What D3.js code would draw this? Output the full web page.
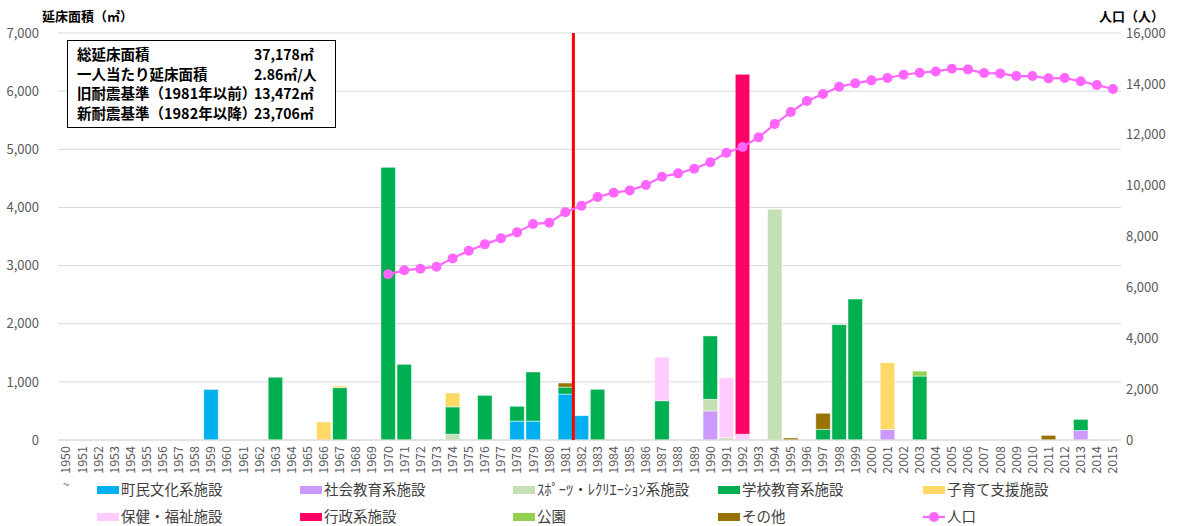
<!DOCTYPE html>
<html>
<head>
<meta charset="utf-8">
<script src="https://cdn.jsdelivr.net/npm/d3@7"></script>
<style>
body { margin: 0; background: #fff; }
svg { font-family: "Noto Sans CJK JP", "Noto Sans", sans-serif; }
</style>
</head>
<body>
<svg id="chart" width="1178" height="526"></svg>
<script>
// years on the x axis
var years = d3.range(1950, 2016);

// series names and colours (stack order = Excel series order)
var seriesNames = ["町民文化系施設", "社会教育系施設", "ｽﾎﾟｰﾂ・ﾚｸﾘｴｰｼｮﾝ系施設", "学校教育系施設",
  "子育て支援施設", "保健・福祉施設", "行政系施設", "公園", "その他"];
var seriesColors = ["#00B0F0", "#CC99FF", "#C5E0B4", "#00B050", "#FFD966", "#FFCCFF", "#FF0066", "#92D050", "#997300"];

// floor area per year, [year, m2]
var townCulture = [[1959, 870], [1978, 325], [1979, 325], [1981, 790], [1982, 418]];
var socialEdu = [[1990, 500], [2001, 180], [2013, 165]];
var sports = [[1974, 100], [1990, 200], [1991, 40], [1994, 3970]];
var schoolEdu = [[1963, 1080], [1967, 900], [1970, 4690], [1971, 1302], [1974, 470], [1976, 768],
  [1978, 255], [1979, 845], [1981, 120], [1983, 872], [1987, 675], [1990, 1090], [1997, 185],
  [1998, 1983], [1999, 2425], [2003, 1100], [2013, 190]];
var childcare = [[1966, 310], [1967, 30], [1974, 238], [2001, 1150]];
var welfare = [[1987, 750], [1991, 1030], [1992, 100]];
var admin = [[1992, 6190]];
var parks = [[2003, 85]];
var others = [[1981, 70], [1995, 35], [1997, 275], [2011, 80]];

// population
var popYears = d3.range(1970, 2016);
var popValues = [6513, 6670, 6735, 6814, 7140, 7442, 7691, 7927, 8163, 8490,
  8542, 8950, 9210, 9552, 9722, 9813, 10024, 10351, 10482, 10665,
  10915, 11294, 11517, 11897, 12421, 12893, 13325, 13600, 13888, 14020,
  14138, 14230, 14360, 14438, 14490, 14595, 14570, 14425, 14412, 14308,
  14308, 14217, 14230, 14100, 13955, 13797];

var areaTicks = [0, 1000, 2000, 3000, 4000, 5000, 6000, 7000];
var popTicks = [0, 2000, 4000, 6000, 8000, 10000, 12000, 14000, 16000];

var infoLines = [
  ["総延床面積", "37,178㎡"],
  ["一人当たり延床面積", "2.86㎡/人"],
  ["旧耐震基準（1981年以前）", "13,472㎡"],
  ["新耐震基準（1982年以降）", "23,706㎡"]
];

var allSeries = [townCulture, socialEdu, sports, schoolEdu, childcare, welfare, admin, parks, others];

// build table rows for d3.stack
var table = years.map(function(y) {
  var row = { year: y };
  allSeries.forEach(function(s, i) {
    var hit = s.find(function(p) { return p[0] === y; });
    row[i] = hit ? hit[1] : 0;
  });
  return row;
});

var svg = d3.select("#chart");
var plotLeft = 58, plotRight = 1121, plotTop = 33, plotBottom = 440;

var x = d3.scaleBand()
  .domain(years)
  .range([plotLeft, plotRight])
  .paddingInner(0.1)
  .paddingOuter(0.05);

var yArea = d3.scaleLinear().domain([0, 7000]).range([plotBottom, plotTop]);
var yPop = d3.scaleLinear().domain([0, 16000]).range([plotBottom, plotTop]);

// gridlines
svg.append("g")
  .selectAll("line")
  .data(areaTicks)
  .enter()
  .append("line")
  .attr("x1", plotLeft)
  .attr("x2", plotRight)
  .attr("y1", function(d) { return yArea(d); })
  .attr("y2", function(d) { return yArea(d); })
  .attr("stroke", "#D9D9D9")
  .attr("stroke-width", 1);

// left axis
var leftAxis = svg.append("g")
  .attr("transform", "translate(" + (plotLeft - 16) + ",0)")
  .call(d3.axisLeft(yArea).tickValues(areaTicks).tickFormat(d3.format(",")).tickSize(0));
leftAxis.select(".domain").remove();
leftAxis.selectAll("text").attr("fill", "#595959").style("font-size", "13px")
  .style("font-family", "'Noto Sans CJK JP'");

// right axis
var rightAxis = svg.append("g")
  .attr("transform", "translate(" + (plotRight + 2) + ",0)")
  .call(d3.axisRight(yPop).tickValues(popTicks).tickFormat(d3.format(",")).tickSize(0));
rightAxis.select(".domain").remove();
rightAxis.selectAll("text").attr("fill", "#595959").style("font-size", "13px")
  .style("font-family", "'Noto Sans CJK JP'");

// bottom axis with rotated years
var bottomAxis = svg.append("g")
  .attr("transform", "translate(0," + plotBottom + ")")
  .call(d3.axisBottom(x).tickSize(0));
bottomAxis.select(".domain").remove();
bottomAxis.selectAll("text")
  .attr("fill", "#595959")
  .style("font-size", "12.5px")
  .style("font-family", "'Noto Sans CJK JP'")
  .style("text-anchor", "end")
  .attr("transform", "rotate(-90)")
  .attr("x", -6)
  .attr("y", 0)
  .attr("dy", "0.35em");

svg.append("text")
  .attr("x", x(1950) + x.bandwidth() / 2)
  .attr("y", 489)
  .attr("text-anchor", "middle")
  .attr("fill", "#595959")
  .style("font-size", "12px")
  .text("~");

// stacked bars
var stack = d3.stack().keys(d3.range(seriesNames.length));
var layers = stack(table);

svg.append("g")
  .selectAll("g")
  .data(layers)
  .enter()
  .append("g")
  .attr("fill", function(d, i) { return seriesColors[i]; })
  .selectAll("rect")
  .data(function(d) { return d.filter(function(p) { return p[1] - p[0] > 0; }); })
  .enter()
  .append("rect")
  .attr("x", function(d) { return x(d.data.year); })
  .attr("width", x.bandwidth())
  .attr("y", function(d) { return yArea(d[1]); })
  .attr("height", function(d) { return yArea(d[0]) - yArea(d[1]); })
  .attr("stroke", "#ffffff")
  .attr("stroke-opacity", 0.6)
  .attr("stroke-width", 0.8);

// baseline
svg.append("line")
  .attr("x1", plotLeft).attr("x2", plotRight)
  .attr("y1", yArea(0)).attr("y2", yArea(0))
  .attr("stroke", "#D9D9D9");

// red divider between 1981 and 1982
var divX = x(1982) - x.step() * x.paddingInner() / 2;
svg.append("line")
  .attr("x1", divX).attr("x2", divX)
  .attr("y1", plotTop).attr("y2", plotBottom)
  .attr("stroke", "#FF0000")
  .attr("stroke-width", 3);

// population line
var popData = popYears.map(function(y, i) { return { year: y, value: popValues[i] }; });
var line = d3.line()
  .x(function(d) { return x(d.year) + x.bandwidth() / 2; })
  .y(function(d) { return yPop(d.value); });

svg.append("path")
  .datum(popData)
  .attr("d", line)
  .attr("fill", "none")
  .attr("stroke", "#FF66FF")
  .attr("stroke-width", 2.2);

svg.append("g")
  .selectAll("circle")
  .data(popData)
  .enter()
  .append("circle")
  .attr("cx", function(d) { return x(d.year) + x.bandwidth() / 2; })
  .attr("cy", function(d) { return yPop(d.value); })
  .attr("r", 5)
  .attr("fill", "#FF66FF");

// axis titles
svg.append("text")
  .attr("x", 42).attr("y", 21)
  .style("font-size", "13px").style("font-weight", "bold")
  .attr("fill", "#000")
  .text("延床面積（㎡）");
svg.append("text")
  .attr("x", 1164).attr("y", 21)
  .attr("text-anchor", "end")
  .style("font-size", "13px").style("font-weight", "bold")
  .attr("fill", "#000")
  .text("人口（人）");

// info box
var info = svg.append("g");
info.append("rect")
  .attr("x", 67.5).attr("y", 40.5)
  .attr("width", 268).attr("height", 87)
  .attr("fill", "#fff")
  .attr("stroke", "#000")
  .attr("stroke-width", 1);
infoLines.forEach(function(l, i) {
  var yy = 60 + i * 19.7;
  info.append("text").attr("x", 77).attr("y", yy)
    .style("font-size", "14.5px").style("font-weight", "bold").text(l[0]);
  info.append("text").attr("x", 254).attr("y", yy)
    .style("font-size", "14px").style("font-weight", "bold").text(l[1]);
});

// legend
var legendX = [97, 300, 513, 718, 923];
var legendItems = seriesNames.map(function(n, i) { return { name: n, color: seriesColors[i], type: "bar" }; });
legendItems.push({ name: "人口", color: "#FF66FF", type: "line" });

var legend = svg.append("g")
  .selectAll("g")
  .data(legendItems)
  .enter()
  .append("g")
  .attr("transform", function(d, i) {
    return "translate(" + legendX[i % 5] + "," + (i < 5 ? 490 : 517) + ")";
  });

legend.filter(function(d) { return d.type === "bar"; })
  .append("rect")
  .attr("x", 0).attr("y", -4)
  .attr("width", 22).attr("height", 8)
  .attr("fill", function(d) { return d.color; });

var lineItems = legend.filter(function(d) { return d.type === "line"; });
lineItems.append("line")
  .attr("x1", 0).attr("x2", 22).attr("y1", 0).attr("y2", 0)
  .attr("stroke", "#FF66FF").attr("stroke-width", 2.2);
lineItems.append("circle")
  .attr("cx", 11).attr("cy", 0).attr("r", 5).attr("fill", "#FF66FF");

legend.append("text")
  .attr("x", 24).attr("y", 0).attr("dy", "0.36em")
  .style("font-size", "14.5px")
  .attr("fill", "#404040")
  .text(function(d) { return d.name; });
</script>
</body>
</html>
